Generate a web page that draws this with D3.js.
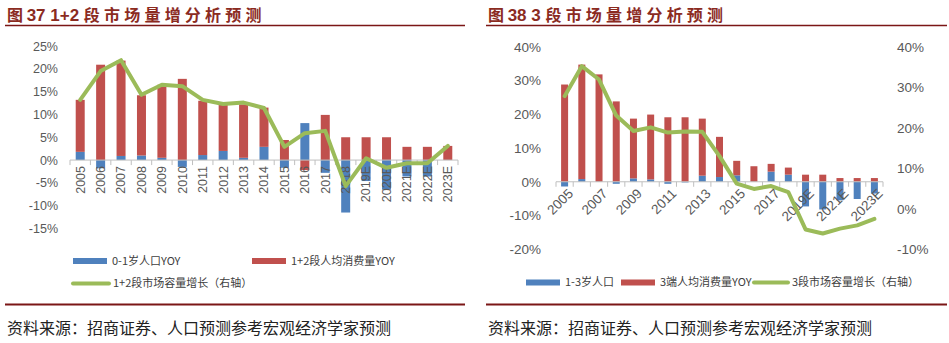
<!DOCTYPE html>
<html>
<head>
<meta charset="utf-8">
<script src="https://cdn.jsdelivr.net/npm/d3@7"></script>
<style>
  body { margin: 0; background: #fff; }
  svg { display: block; }
  .tick text, .lab { font-family: "Liberation Sans", Arial, sans-serif; fill: #595959; }
  .cn { font-family: "Noto Sans CJK SC", sans-serif; }
</style>
</head>
<body>
<div id="chart"></div>
<script>
/**
 * DATA
 * */
const years = ["2005", "2006", "2007", "2008", "2009", "2010", "2011", "2012", "2013", "2014",
  "2015", "2016", "2017", "2018", "2019E", "2020E", "2021E", "2022E", "2023E"];

// 1+2段 (%)
const pop01 = [1.8, -1.8, 0.9, 1.0, 0.5, -1.5, 1.1, 2.0, 0.5, 2.9, -1.7, 8.1, -2.8, -11.5, -4.6, -6.5, -3.6, -3.6, 0];
const cons12 = [11.4, 20.9, 20.9, 13.2, 16.0, 17.8, 11.9, 10.5, 11.7, 8.6, 4.4, -2.2, 9.9, 5.0, 5.0, 5.0, 2.9, 2.9, 3.1];
const market12 = [13.2, 19.5, 21.9, 14.3, 16.5, 16.2, 13.2, 12.3, 12.6, 11.4, 2.9, 5.9, 6.4, -5.7, 0.4, -1.7, -0.7, -0.7, 3.1];

// 3段 (%)
const pop13 = [-1.4, 0.8, 0, -0.6, 1.0, 0.7, -0.6, -0.2, 1.8, 1.4, 1.9, 0, 3.0, 2.1, -7.3, -8.2, -5.5, -5.1, -3.5];
const cons3 = [28.8, 33.9, 31.8, 23.8, 17.7, 19.2, 19.1, 19.1, 16.9, 11.9, 4.3, 4.6, 2.3, 2.1, 2.1, 2.1, 1.1, 1.1, 1.1];
const market3 = [27.8, 35.2, 31.9, 23.0, 19.2, 20.1, 18.8, 19.1, 19.0, 13.0, 6.2, 4.9, 5.6, 4.1, -5.1, -6.1, -4.9, -4.1, -2.5];

const ticks12 = [-15, -10, -5, 0, 5, 10, 15, 20, 25];
const ticks3L = [-20, -10, 0, 10, 20, 30, 40];
const ticks3R = [-10, 0, 10, 20, 30, 40];

const blue = "#4F81BD", red = "#C0504D", green = "#9BBB59";
const titleColor = "#8B2B1F", ruleColor = "#7B1616";
const source = "资料来源：招商证券、人口预测参考宏观经济学家预测";

const width = 949, height = 343;

const svg = d3.select("#chart").append("svg")
  .attr("width", width)
  .attr("height", height);

const pct = d => d + "%";

function stacked(a, b) {
  const rows = years.map((y, i) => ({ year: y, a: a[i], b: b[i] }));
  return d3.stack().keys(["a", "b"]).offset(d3.stackOffsetDiverging)(rows);
}

function header(x0, x1, num, title) {
  const t = svg.append("text")
    .attr("class", "cn")
    .attr("x", x0 + 2)
    .attr("y", 21)
    .attr("fill", titleColor)
    .attr("font-weight", "bold")
    .attr("font-size", 16);
  t.append("tspan").text("图 ");
  t.append("tspan").attr("font-family", "Liberation Sans, Arial").attr("font-size", 17).text(num + " ");
  t.append("tspan").attr("letter-spacing", 4.2).text(title);

  svg.append("line")
    .attr("x1", x0).attr("x2", x1)
    .attr("y1", 25.5).attr("y2", 25.5)
    .attr("stroke", ruleColor).attr("stroke-width", 1.5);

  svg.append("line")
    .attr("x1", x0).attr("x2", x1)
    .attr("y1", 304.5).attr("y2", 304.5)
    .attr("stroke", ruleColor).attr("stroke-width", 2);

  svg.append("text")
    .attr("class", "cn")
    .attr("x", x0 + 2)
    .attr("y", 334)
    .attr("fill", "#222")
    .attr("font-size", 16)
    .text(source);
}

function legendRect(g, x, y, color, label) {
  g.append("rect").attr("x", x).attr("y", y - 3).attr("width", 34).attr("height", 6).attr("fill", color);
  g.append("text").attr("class", "cn").attr("x", x + 39).attr("y", y).attr("dy", "0.35em")
    .attr("font-size", 11).attr("fill", "#404040").text(label);
}

function legendLine(g, x, y, len, label) {
  g.append("line").attr("x1", x + 2).attr("x2", x + len - 2).attr("y1", y).attr("y2", y)
    .attr("stroke", green).attr("stroke-width", 4).attr("stroke-linecap", "round");
  g.append("text").attr("class", "cn").attr("x", x + len + 2).attr("y", y).attr("dy", "0.35em")
    .attr("font-size", 11).attr("fill", "#404040").text(label);
}

function drawBars(g, x, y, series, bw) {
  g.selectAll("g.series")
    .data(series)
    .join("g")
    .attr("fill", (d, i) => i === 0 ? blue : red)
    .selectAll("rect")
    .data(d => d)
    .join("rect")
    .attr("x", d => x(d.data.year) + (x.bandwidth() - bw) / 2)
    .attr("width", bw)
    .attr("y", d => y(Math.max(d[0], d[1])))
    .attr("height", d => Math.abs(y(d[0]) - y(d[1])));
}

function baseAxis(g, x, y0) {
  const x0 = x.range()[0], x1 = x.range()[1];
  g.append("line").attr("x1", x0).attr("x2", x1).attr("y1", y0).attr("y2", y0)
    .attr("stroke", "#BFBFBF");
  g.selectAll("line.tk")
    .data(d3.range(years.length + 1))
    .join("line")
    .attr("class", "tk")
    .attr("x1", i => x0 + i * x.step()).attr("x2", i => x0 + i * x.step())
    .attr("y1", y0).attr("y2", y0 + 5)
    .attr("stroke", "#BFBFBF");
}

/**
 * 图37 1+2段
 * */
header(5, 465, "37 1+2", "段市场量增分析预测");
{
  const x = d3.scaleBand().domain(years).range([70, 458]);
  const y = d3.scaleLinear().domain([-15, 25]).range([228.5, 46]);
  const g = svg.append("g");

  const yAxis = g.append("g")
    .attr("transform", "translate(58,0)")
    .call(d3.axisLeft(y).tickValues(ticks12).tickFormat(pct).tickSize(0).tickPadding(0));
  yAxis.select(".domain").remove();
  yAxis.selectAll("text").attr("font-size", 12.5).attr("fill", "#595959");

  drawBars(g, x, y, stacked(pop01, cons12), 9);
  baseAxis(g, x, y(0));

  g.selectAll("text.xl")
    .data(years)
    .join("text")
    .attr("class", "lab xl")
    .attr("font-size", 12.5)
    .attr("text-anchor", "end")
    .attr("dy", "0.35em")
    .attr("transform", d => `translate(${x(d) + x.bandwidth() / 2},166) rotate(-90)`)
    .text(d => d);

  const line = d3.line()
    .x((d, i) => x(years[i]) + x.bandwidth() / 2)
    .y(d => y(d));
  g.append("path")
    .datum(market12)
    .attr("d", line)
    .attr("fill", "none")
    .attr("stroke", green)
    .attr("stroke-width", 4)
    .attr("stroke-linejoin", "round")
    .attr("stroke-linecap", "round");

  const lg = svg.append("g");
  legendRect(lg, 73, 261, blue, "0-1岁人口YOY");
  legendRect(lg, 252, 261, red, "1+2段人均消费量YOY");
  legendLine(lg, 71, 283.5, 40, "1+2段市场容量增长（右轴）");
}

/**
 * 图38 3段
 * */
header(486, 947, "38 3", "段市场量增分析预测");
{
  const x = d3.scaleBand().domain(years).range([556, 883]);
  const y = d3.scaleLinear().domain([-20, 40]).range([249.3, 46.7]);
  const y2 = d3.scaleLinear().domain([-10, 40]).range([249.3, 46.7]);
  const g = svg.append("g");

  const yAxis = g.append("g")
    .attr("transform", "translate(541,0)")
    .call(d3.axisLeft(y).tickValues(ticks3L).tickFormat(pct).tickSize(0).tickPadding(0));
  yAxis.select(".domain").remove();
  yAxis.selectAll("text").attr("font-size", 13.5).attr("fill", "#595959");

  const yAxis2 = g.append("g")
    .attr("transform", "translate(897,0)")
    .call(d3.axisRight(y2).tickValues(ticks3R).tickFormat(pct).tickSize(0).tickPadding(0));
  yAxis2.select(".domain").remove();
  yAxis2.selectAll("text").attr("font-size", 13.5).attr("fill", "#595959");

  drawBars(g, x, y, stacked(pop13, cons3), 7);
  baseAxis(g, x, y(0));

  g.selectAll("text.xl")
    .data(years.filter((d, i) => i % 2 === 0))
    .join("text")
    .attr("class", "lab xl")
    .attr("font-size", 13.5)
    .attr("text-anchor", "end")
    .attr("dy", "0.35em")
    .attr("transform", d => `translate(${x(d) + x.bandwidth() / 2 + 6},191) rotate(-45)`)
    .text(d => d);

  const line = d3.line()
    .x((d, i) => x(years[i]) + x.bandwidth() / 2)
    .y(d => y2(d));
  g.append("path")
    .datum(market3)
    .attr("d", line)
    .attr("fill", "none")
    .attr("stroke", green)
    .attr("stroke-width", 4)
    .attr("stroke-linejoin", "round")
    .attr("stroke-linecap", "round");

  const lg = svg.append("g");
  legendRect(lg, 526, 282.5, blue, "1-3岁人口");
  legendRect(lg, 621, 282.5, red, "3端人均消费量YOY");
  legendLine(lg, 752, 282.5, 38, "3段市场容量增长（右轴）");
}
</script>
</body>
</html>
